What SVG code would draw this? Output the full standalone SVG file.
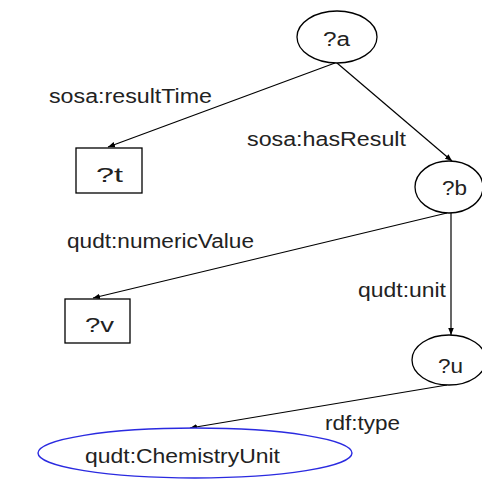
<svg xmlns="http://www.w3.org/2000/svg" width="482" height="481" viewBox="0 0 482 481">
<defs>
<style>
.n{fill:#fff;stroke:#000;stroke-width:1.3}
.c{fill:none;stroke:#000;stroke-width:1.2}
text{font-family:"Liberation Sans",Arial,sans-serif;font-size:20px;fill:#222}
</style>
<marker id="ah" viewBox="0 0 10 10" refX="10" refY="5" markerWidth="7" markerHeight="7" markerUnits="userSpaceOnUse" orient="auto">
<path d="M0,1 L10,5 L0,9 Z" fill="#000"/>
</marker>
</defs>
<rect width="482" height="481" fill="#fff"/>
<g id="connectors">
<line class="c" x1="335" y1="63" x2="108" y2="147" marker-end="url(#ah)"/>
<line class="c" x1="337" y1="63" x2="452" y2="161" marker-end="url(#ah)"/>
<line class="c" x1="447" y1="213" x2="93" y2="298" marker-end="url(#ah)"/>
<line class="c" x1="451" y1="213" x2="451" y2="335" marker-end="url(#ah)"/>
<line class="c" x1="447" y1="385" x2="190" y2="428" marker-end="url(#ah)"/>
<text x="49" y="103" textLength="163" lengthAdjust="spacingAndGlyphs">sosa:resultTime</text>
<text x="247" y="146" textLength="159" lengthAdjust="spacingAndGlyphs">sosa:hasResult</text>
<text x="67" y="248" textLength="187" lengthAdjust="spacingAndGlyphs">qudt:numericValue</text>
<text x="358" y="297" textLength="88" lengthAdjust="spacingAndGlyphs">qudt:unit</text>
<text x="325" y="430" textLength="75" lengthAdjust="spacingAndGlyphs">rdf:type</text>
</g>
<g id="node-a">
<ellipse class="n" cx="337" cy="37" rx="40" ry="26"/>
<text x="323" y="46" textLength="27" lengthAdjust="spacingAndGlyphs">?a</text>
</g>
<g id="node-t">
<rect class="n" x="76" y="148" width="66" height="45"/>
<text x="96" y="182" textLength="27" lengthAdjust="spacingAndGlyphs">?t</text>
</g>
<g id="node-b">
<ellipse class="n" cx="449" cy="187" rx="34" ry="26"/>
<text x="442" y="195" textLength="25" lengthAdjust="spacingAndGlyphs">?b</text>
</g>
<g id="node-v">
<rect class="n" x="65" y="299" width="65" height="44"/>
<text x="85" y="332" textLength="29" lengthAdjust="spacingAndGlyphs">?v</text>
</g>
<g id="node-u">
<ellipse class="n" cx="449" cy="360" rx="37" ry="25"/>
<text x="438" y="373" textLength="25" lengthAdjust="spacingAndGlyphs">?u</text>
</g>
<g id="node-chem">
<ellipse cx="195" cy="453" rx="157" ry="25" fill="#fff" stroke="#2a2ae0" stroke-width="1.4"/>
<text x="85" y="463" textLength="195" lengthAdjust="spacingAndGlyphs">qudt:ChemistryUnit</text>
</g>
</svg>
